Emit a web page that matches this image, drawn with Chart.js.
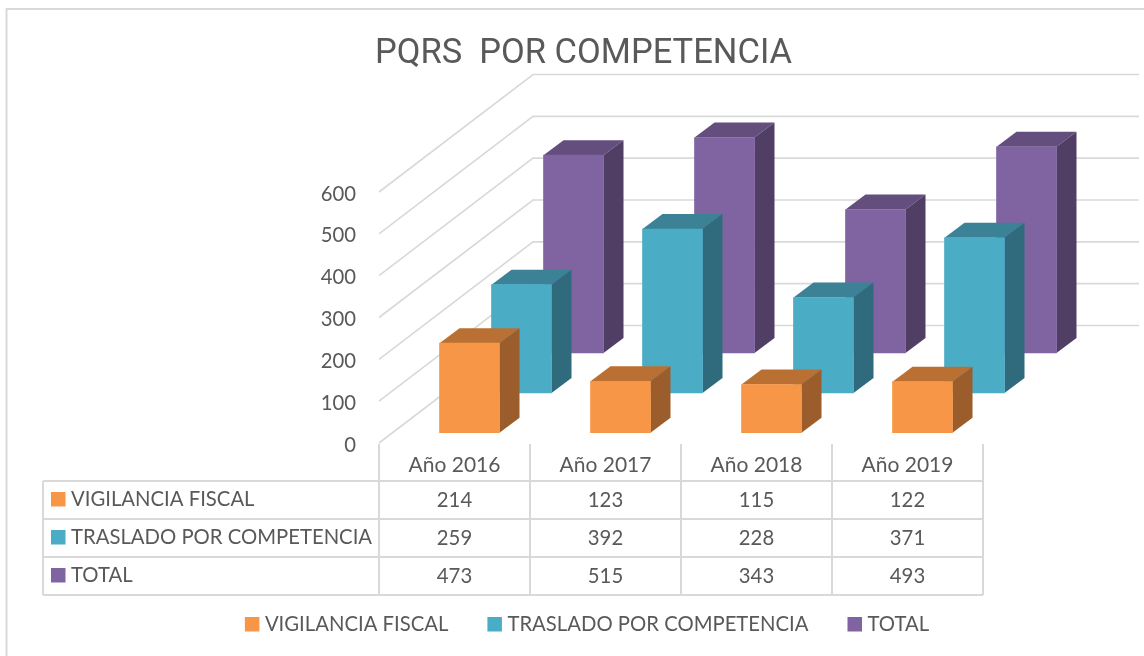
<!DOCTYPE html>
<html>
<head>
<meta charset="utf-8">
<style>
  html, body { margin: 0; padding: 0; background: #fff; }
  #wrap { width: 1144px; height: 656px; }
</style>
<script src="https://cdn.jsdelivr.net/npm/chart.js@4/dist/chart.umd.min.js"></script>
</head>
<body>
<div id="wrap"><canvas id="pqrs-chart" width="1144" height="656"></canvas></div>
<script>
var years = ["Año 2016", "Año 2017", "Año 2018", "Año 2019"];
var vigilancia = [214, 123, 115, 122];
var traslado = [259, 392, 228, 371];
var total = [473, 515, 343, 493];
var seriesNames = ["VIGILANCIA FISCAL", "TRASLADO POR COMPETENCIA", "TOTAL"];
var seriesColors = ["#F79646", "#4BACC6", "#8064A2"];
var sideColors = ["#9A5D2B", "#2F6B7C", "#503E65"];
var topColors = ["#BA7032", "#3B8296", "#634E7D"];

var textColor = "#595959";
var lineColor = "#D9D9D9";
var labelFont = "20.3px Lato";

// 3d look: how far each row sits behind the axis plane
var rowX = [15, 67, 119];
var rowY = [10.3, 50, 90];
var barDepthX = 20, barDepthY = 15;
var wallX = 154, wallY = 117.5, wallRight = 1139;

var threeD = {
  id: "threeD",
  beforeDraw: function(chart) {
    var ctx = chart.ctx;
    ctx.save();
    ctx.fillStyle = "#fff";
    ctx.fillRect(0, 0, chart.width, chart.height);
    // outer frame, only left and top are inside the picture
    ctx.strokeStyle = lineColor;
    ctx.lineWidth = 2;
    ctx.beginPath();
    ctx.moveTo(6.5, chart.height);
    ctx.lineTo(6.5, 9);
    ctx.lineTo(chart.width, 9);
    ctx.stroke();
    ctx.restore();
  },
  afterLayout: function(chart) {
    // title is centred on the whole chart, not on the padded box
    chart.titleBlock.left = 0;
    chart.titleBlock.right = 1167;
  },
  beforeDatasetsDraw: function(chart) {
    var ctx = chart.ctx, y = chart.scales.y, x0 = chart.chartArea.left;
    ctx.save();
    ctx.strokeStyle = lineColor;
    ctx.lineWidth = 1.6;
    y.ticks.forEach(function(t) {
      var py = y.getPixelForValue(t.value);
      ctx.beginPath();
      ctx.moveTo(x0, py);
      ctx.lineTo(x0 + wallX, py - wallY);
      ctx.lineTo(wallRight, py - wallY);
      ctx.stroke();
    });
    ctx.restore();
  },
  beforeDatasetDraw: function(chart, args) {
    var ctx = chart.ctx, i = args.index;
    ctx.save();
    ctx.translate(rowX[i], -rowY[i]);
    args.meta.data.forEach(function(bar) {
      var l = bar.x - bar.width / 2, r = bar.x + bar.width / 2;
      ctx.fillStyle = topColors[i];
      ctx.beginPath();
      ctx.moveTo(l, bar.y);
      ctx.lineTo(l + barDepthX, bar.y - barDepthY);
      ctx.lineTo(r + barDepthX, bar.y - barDepthY);
      ctx.lineTo(r, bar.y);
      ctx.closePath();
      ctx.fill();
      ctx.fillStyle = sideColors[i];
      ctx.beginPath();
      ctx.moveTo(r, bar.y);
      ctx.lineTo(r + barDepthX, bar.y - barDepthY);
      ctx.lineTo(r + barDepthX, bar.base - barDepthY);
      ctx.lineTo(r, bar.base);
      ctx.closePath();
      ctx.fill();
    });
  },
  afterDatasetDraw: function(chart) {
    chart.ctx.restore();
  },
  afterDraw: function(chart) {
    drawTable(chart);
    drawLegend(chart);
  }
};

function key(ctx, x, y, color) {
  ctx.fillStyle = color;
  ctx.fillRect(x, y, 14.5, 14.5);
}

function drawTable(chart) {
  var ctx = chart.ctx, xs = chart.scales.x;
  var rows = [481, 519, 557, 595], left = 43;
  var stepX = xs.width / years.length;
  var rowValues = chart.data.datasets.map(function(d) { return d.data; });
  ctx.save();
  ctx.strokeStyle = lineColor;
  ctx.lineWidth = 2;
  ctx.beginPath();
  rows.forEach(function(y) {
    ctx.moveTo(left, y);
    ctx.lineTo(xs.right, y);
  });
  ctx.moveTo(left, rows[0]);
  ctx.lineTo(left, rows[3]);
  for (var c = 0; c <= years.length; c++) {
    ctx.moveTo(xs.left + c * stepX, 444);
    ctx.lineTo(xs.left + c * stepX, rows[3]);
  }
  ctx.stroke();
  ctx.font = labelFont;
  ctx.textBaseline = "middle";
  seriesNames.forEach(function(name, r) {
    key(ctx, 51, rows[r] + 11, seriesColors[r]);
    ctx.fillStyle = textColor;
    ctx.textAlign = "left";
    ctx.fillText(name, 71, rows[r] + 18.5);
    ctx.textAlign = "center";
    rowValues[r].forEach(function(v, c) {
      ctx.fillText(String(v), xs.getPixelForValue(c), rows[r] + 19.5);
    });
  });
  ctx.restore();
}

function drawLegend(chart) {
  var ctx = chart.ctx, gap = 39, keyW = 20;
  ctx.save();
  ctx.font = labelFont;
  ctx.textBaseline = "middle";
  ctx.textAlign = "left";
  var widths = seriesNames.map(function(n) { return ctx.measureText(n).width; });
  var all = widths.reduce(function(a, b) { return a + b + keyW; }, 0) + gap * 2;
  var x = 587 - all / 2;
  seriesNames.forEach(function(name, i) {
    key(ctx, x, 617, seriesColors[i]);
    ctx.fillStyle = textColor;
    ctx.fillText(name, x + keyW, 624);
    x += keyW + widths[i] + gap;
  });
  ctx.restore();
}

new Chart("pqrs-chart", {
  type: "bar",
  data: {
    labels: years,
    datasets: [
      { label: seriesNames[0], data: vigilancia, backgroundColor: seriesColors[0], clip: false },
      { label: seriesNames[1], data: traslado, backgroundColor: seriesColors[1], clip: false },
      { label: seriesNames[2], data: total, backgroundColor: seriesColors[2], clip: false }
    ]
  },
  plugins: [threeD],
  options: {
    responsive: false,
    animation: false,
    layout: { padding: { left: 0, right: 161, top: 0, bottom: 0 } },
    datasets: { bar: { grouped: false, barThickness: 60 } },
    plugins: {
      legend: { display: false },
      tooltip: { enabled: false },
      title: {
        display: true,
        text: "PQRS  POR COMPETENCIA",
        color: textColor,
        font: { family: "Roboto", size: 34.5, weight: "normal", lineHeight: 1.2 },
        padding: { top: 34, bottom: 116.6 }
      }
    },
    scales: {
      x: {
        grid: { display: false },
        border: { display: false },
        ticks: { color: textColor, font: { family: "Lato", size: 21 }, padding: 2, maxRotation: 0 },
        afterFit: function(s) { s.height = 213; }
      },
      y: {
        min: 0,
        max: 600,
        grid: { display: false },
        border: { display: false },
        ticks: { stepSize: 100, color: textColor, font: { family: "Lato", size: 20.3 }, padding: 15, labelOffset: 2 },
        afterFit: function(s) { s.width = 379; }
      }
    }
  }
});
</script>
</body>
</html>
